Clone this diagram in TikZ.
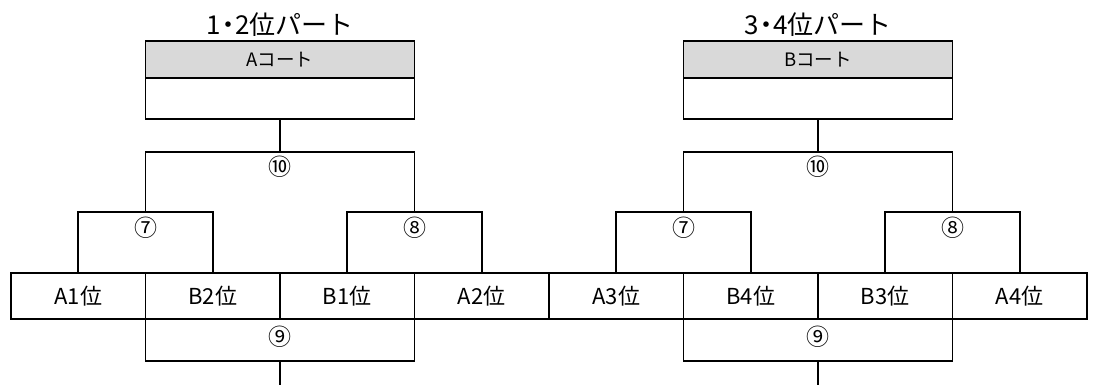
\documentclass[tikz,border=0pt]{standalone}
\usepackage{fontspec}
\setmainfont{Noto Sans CJK JP}
\usetikzlibrary{positioning, calc}

\begin{document}
\begin{tikzpicture}[x=1pt, y=1pt,
        every path/.style={line width=1.8pt},
        slot/.style={draw, outer sep=0pt, minimum width=134.5pt,
              minimum height=46pt, inner sep=0pt, font=\fontsize{22}{24}\selectfont},
        court/.style={draw, outer sep=0pt, fill=gray!30, minimum width=269pt,
              minimum height=37pt, inner sep=0pt, font=\fontsize{18.5}{20}\selectfont},
        blank/.style={draw, outer sep=0pt, minimum width=269pt,
              minimum height=41pt, inner sep=0pt},
        title/.style={inner sep=0pt, font=\fontsize{26}{28}\selectfont},
        num/.style={inner sep=0pt, font=\fontsize{23}{25}\selectfont}]
        \useasboundingbox (0,0) rectangle (1098,385);
        \node[slot] (s1) at (78.25,89) {A1位};
        \node[slot, right=0pt of s1] (s2) {B2位};
        \node[slot, right=0pt of s2] (s3) {B1位};
        \node[slot, right=0pt of s3] (s4) {A2位};
        \node[slot, right=0pt of s4] (s5) {A3位};
        \node[slot, right=0pt of s5] (s6) {B4位};
        \node[slot, right=0pt of s6] (s7) {B3位};
        \node[slot, right=0pt of s7] (s8) {A4位};

        \coordinate (k7a) at ($(s1.north)!.5!(s2.north)+(0,61)$);
        \coordinate (k8a) at ($(s3.north)!.5!(s4.north)+(0,61)$);
        \coordinate (k7b) at ($(s5.north)!.5!(s6.north)+(0,61)$);
        \coordinate (k8b) at ($(s7.north)!.5!(s8.north)+(0,61)$);
        \coordinate (k10a) at ($(k7a)!.5!(k8a)+(0,60)$);
        \coordinate (k10b) at ($(k7b)!.5!(k8b)+(0,60)$);
        \coordinate (k9a) at ($(s2.south west)!.5!(s3.south east)+(0,-42)$);
        \coordinate (k9b) at ($(s6.south west)!.5!(s7.south east)+(0,-42)$);
        \coordinate (e9a) at ($(k9a)+(0,-24)$);
        \coordinate (e9b) at ($(k9b)+(0,-24)$);

        \node[blank, above=33pt of k10a] (ba) {};
        \node[court, above=0pt of ba] (ca) {Aコート};
        \node[title, above=4pt of ca] (ta) {1\kern-6pt・\kern-6pt2位パート};
        \node[blank, above=33pt of k10b] (bb) {};
        \node[court, above=0pt of bb] (cb) {Bコート};
        \node[title, above=4pt of cb] (tb) {3\kern-6pt・\kern-6pt4位パート};

        \draw (s1.north) |- (k7a) -| (s2.north);
        \draw (s3.north) |- (k8a) -| (s4.north);
        \draw (s5.north) |- (k7b) -| (s6.north);
        \draw (s7.north) |- (k8b) -| (s8.north);
        \draw (k7a) |- (k10a) -| (k8a);
        \draw (k7b) |- (k10b) -| (k8b);
        \draw (k10a) -- (ba.south);
        \draw (k10b) -- (bb.south);
        \draw (s2.south west) |- (k9a) -| (s3.south east);
        \draw (s6.south west) |- (k9b) -| (s7.south east);
        \draw (k9a) -- (e9a);
        \draw (k9b) -- (e9b);

        \node[num, below=16pt of k7a, anchor=center] (n7a) {⑦};
        \node[num, below=16pt of k8a, anchor=center] (n8a) {⑧};
        \node[num, below=16pt of k7b, anchor=center] (n7b) {⑦};
        \node[num, below=16pt of k8b, anchor=center] (n8b) {⑧};
        \node[num, below=15pt of k10a, anchor=center] (n10a) {⑩};
        \node[num, below=15pt of k10b, anchor=center] (n10b) {⑩};
        \node[num, above=24pt of k9a, anchor=center] (n9a) {⑨};
        \node[num, above=24pt of k9b, anchor=center] (n9b) {⑨};
\end{tikzpicture}
\end{document}
